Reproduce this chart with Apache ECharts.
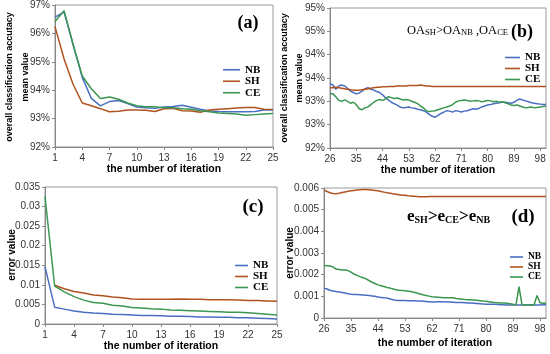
<!DOCTYPE html>
<html>
<head>
<meta charset="utf-8">
<script src="https://cdn.jsdelivr.net/npm/echarts@6/dist/echarts.min.js"></script>
<style>html,body{margin:0;padding:0;background:#fff}#c{width:550px;height:354px}</style>
</head>
<body>
<div id="c"></div>
<script>
// ---------- data ----------
const iterA = ['1','2','3','4','5','6','7','8','9','10','11','12','13','14','15','16','17','18','19','20','21','22','23','24','25'];
const iterB = ['26','27','28','29','30','31','32','33','34','35','36','37','38','39','40','41','42','43','44','45','46','47','48','49','50','51','52','53','54','55','56','57','58','59','60','61','62','63','64','65','66','67','68','69','70','71','72','73','74','75','76','77','78','79','80','81','82','83','84','85','86','87','88','89','90','91','92','93','94','95','96','97','98','99','100'];

// (a) accuracy, iterations 1-25
const accNB_a = [96.57,96.75,95.6,94.45,93.71,93.45,93.6,93.64,93.53,93.41,93.38,93.36,93.41,93.43,93.47,93.4,93.33,93.27,93.25,93.24,93.24,93.24,93.25,93.3,93.3];
const accSH_a = [96.24,95.1,94.2,93.55,93.45,93.35,93.24,93.26,93.3,93.3,93.29,93.25,93.35,93.36,93.28,93.27,93.22,93.3,93.33,93.35,93.37,93.39,93.39,93.33,93.32];
const accCE_a = [96.42,96.8,95.6,94.5,94.05,93.71,93.76,93.68,93.55,93.45,93.42,93.42,93.38,93.38,93.35,93.33,93.28,93.24,93.2,93.18,93.16,93.12,93.14,93.16,93.18];

// (b) accuracy, iterations 26-100
const accNB_b = [93.38,93.35,93.26,93.33,93.35,93.33,93.28,93.22,93.19,93.16,
 93.18,93.22,93.27,93.29,93.26,93.24,93.21,93.19,93.14,93.08,
 93.03,92.98,92.95,92.92,92.88,92.86,92.87,92.88,92.86,92.85,
 92.83,92.82,92.80,92.77,92.72,92.68,92.66,92.70,92.74,92.77,
 92.80,92.79,92.77,92.80,92.79,92.77,92.79,92.80,92.82,92.84,
 92.83,92.85,92.88,92.90,92.92,92.93,92.95,92.96,92.97,92.98,
 92.98,92.97,92.96,92.98,93.02,93.05,93.03,93.01,92.99,92.97,
 92.96,92.95,92.94,92.93,92.93];
const accSH_b = [93.29,93.29,93.30,93.29,93.28,93.27,93.26,93.25,93.24,93.24,
 93.24,93.25,93.26,93.27,93.28,93.29,93.30,93.30,93.31,93.31,
 93.32,93.32,93.32,93.33,93.33,93.33,93.33,93.34,93.34,93.34,
 93.34,93.35,93.34,93.33,93.33,93.32,93.32,93.32,93.32,93.32,
 93.32,93.32,93.32,93.32,93.32,93.32,93.32,93.32,93.32,93.32,
 93.32,93.32,93.32,93.32,93.32,93.32,93.32,93.32,93.32,93.32,
 93.32,93.32,93.32,93.32,93.32,93.32,93.32,93.32,93.32,93.32,
 93.32,93.32,93.32,93.32,93.32];
const accCE_b = [93.16,93.16,93.10,93.02,93.00,93.03,93.00,92.96,92.98,92.93,
 92.84,92.82,92.86,92.88,92.93,92.98,93.02,93.04,93.02,93.05,
 93.10,93.08,93.06,93.07,93.05,93.03,93.04,93.03,93.00,92.98,
 92.95,92.90,92.86,92.80,92.78,92.79,92.80,92.82,92.84,92.86,
 92.88,92.90,92.93,92.98,93.01,93.02,93.03,93.02,93.00,93.01,
 93.02,93.01,92.99,93.00,93.02,93.01,92.99,93.00,92.98,92.99,
 92.97,92.95,92.92,92.91,92.92,92.90,92.88,92.86,92.87,92.88,
 92.86,92.87,92.88,92.89,92.90];

// (c) error, iterations 1-25
const errNB_c = [0.0146,0.0043,0.0038,0.0033,0.0030,0.0028,0.0027,0.0025,0.0024,0.0023,0.0022,0.0022,0.0021,0.0020,0.0020,0.0019,0.0018,0.0018,0.0017,0.0017,0.0016,0.0016,0.0015,0.0014,0.0013];
const errSH_c = [null,0.0099,0.0090,0.0083,0.0079,0.0074,0.0072,0.0069,0.0067,0.0064,0.0063,0.0063,0.0063,0.0063,0.0064,0.0063,0.0063,0.0062,0.0062,0.0062,0.0061,0.0060,0.0060,0.0059,0.0058];
const errCE_c = [0.0325,0.0097,0.0082,0.0070,0.0061,0.0055,0.0053,0.0048,0.0046,0.0042,0.0041,0.0039,0.0038,0.0036,0.0035,0.0034,0.0033,0.0032,0.0031,0.0030,0.0030,0.0029,0.0027,0.0025,0.0023];

// (d) error, iterations 26-100
const errNB_d = [0.00138,0.00134,0.00128,0.00125,0.00122,0.00120,0.00118,0.00115,0.00112,0.00110,
 0.00109,0.00108,0.00107,0.00106,0.00105,0.00104,0.00102,0.00100,0.00097,0.00095,
 0.00093,0.00092,0.00088,0.00084,0.00082,0.00081,0.00081,0.00081,0.00080,0.00080,
 0.00080,0.00079,0.00078,0.00077,0.00076,0.00075,0.00074,0.00074,0.00075,0.00075,
 0.00075,0.00074,0.00074,0.00073,0.00072,0.00072,0.00071,0.00070,0.00069,0.00069,
 0.00068,0.00067,0.00066,0.00065,0.00064,0.00064,0.00063,0.00063,0.00062,0.00061,
 0.00061,0.00060,0.00060,0.00060,0.00060,0.00060,0.00060,0.00060,0.00060,0.00061,
 0.00060,0.00060,0.00060,0.00061,0.00061];
const errSH_d = [0.00590,0.00584,0.00578,0.00575,0.00574,0.00576,0.00579,0.00582,0.00585,0.00587,
 0.00589,0.00591,0.00592,0.00593,0.00593,0.00592,0.00591,0.00589,0.00587,0.00584,
 0.00581,0.00578,0.00576,0.00573,0.00571,0.00569,0.00567,0.00566,0.00564,0.00563,
 0.00562,0.00561,0.00560,0.00560,0.00560,0.00561,0.00561,0.00561,0.00561,0.00561,
 0.00561,0.00561,0.00561,0.00561,0.00561,0.00561,0.00561,0.00561,0.00561,0.00561,
 0.00561,0.00561,0.00561,0.00561,0.00561,0.00561,0.00561,0.00561,0.00561,0.00561,
 0.00561,0.00561,0.00561,0.00561,0.00561,0.00561,0.00561,0.00561,0.00561,0.00561,
 0.00561,0.00561,0.00561,0.00561,0.00561];
const errCE_d = [0.00242,0.00241,0.00240,0.00236,0.00226,0.00224,0.00222,0.00221,0.00219,0.00212,
 0.00203,0.00197,0.00191,0.00186,0.00181,0.00173,0.00165,0.00159,0.00153,0.00149,
 0.00145,0.00141,0.00138,0.00134,0.00130,0.00128,0.00127,0.00126,0.00124,0.00122,
 0.00119,0.00115,0.00111,0.00107,0.00104,0.00101,0.00098,0.00097,0.00096,0.00095,
 0.00094,0.00093,0.00094,0.00093,0.00090,0.00089,0.00087,0.00085,0.00084,0.00084,
 0.00083,0.00082,0.00080,0.00078,0.00077,0.00075,0.00073,0.00071,0.00070,0.00069,
 0.00069,0.00068,0.00066,0.00063,0.00061,0.00145,0.00061,0.00060,0.00060,0.00060,
 0.00060,0.00104,0.00070,0.00068,0.00068];

const seriesNames = ['NB','SH','CE'];
const colors = {NB:'#4A6EC2', SH:'#B0521E', CE:'#3A9651'};

// ---------- chart ----------
const chart = echarts.init(document.getElementById('c'), null, {renderer:'canvas'});
const sans = 'Liberation Sans, Arial, sans-serif';
const serif = 'Liberation Serif, Times New Roman, serif';

function xAx(gi, cats, intv, gap){
  return {type:'category', gridIndex:gi, data:cats, boundaryGap:false,
    axisLine:{lineStyle:{color:'#888'}},
    axisTick:{show:true, interval:intv, length:3, lineStyle:{color:'#888'}},
    axisLabel:{interval:intv, fontSize:10, color:'#333', fontFamily:sans, margin:6},
    splitLine:{show:false},
    name:'the number of iteration', nameLocation:'middle', nameGap:gap,
    nameTextStyle:{fontFamily:sans, fontWeight:'bold', fontSize:10.5, color:'#000'}};
}
function yAx(gi, min, max, intv, fmt){
  return {type:'value', gridIndex:gi, min:min, max:max, interval:intv,
    axisLine:{show:true, lineStyle:{color:'#888'}},
    axisTick:{show:true, length:3, lineStyle:{color:'#888'}},
    axisLabel:{fontSize:10, color:'#333', fontFamily:sans, margin:5, formatter:fmt},
    splitLine:{show:false}};
}
function ser(name, gi, data){
  return {type:'line', name:name, xAxisIndex:gi, yAxisIndex:gi, data:data,
    symbol:'none', lineStyle:{width:1.5, color:colors[name]}, itemStyle:{color:colors[name]},
    connectNulls:false, z:2};
}
function leg(left, top, iw, fs, lh){
  return {left:left, top:top, orient:'vertical', icon:'rect', itemWidth:iw, itemHeight:1.6, itemGap:0,
    padding:0, selectedMode:false, data:seriesNames,
    textStyle:{fontFamily:serif, fontWeight:'bold', fontSize:fs, lineHeight:lh, color:'#000'}};
}
const pctFmt = v => Math.round(v) + '%';
const errFmt = v => v === 0 ? '0' : String(+v.toFixed(3));

const option = {
  animation:false,
  backgroundColor:'#fff',
  grid:[
    {left:55, top:5, width:218, height:142, show:true, borderColor:'#999', borderWidth:1},
    {left:330, top:8, width:216, height:140, show:true, borderColor:'#999', borderWidth:1},
    {left:45, top:187, width:232, height:137, show:true, borderColor:'#999', borderWidth:1},
    {left:324, top:188, width:222, height:130, show:true, borderColor:'#999', borderWidth:1}
  ],
  xAxis:[ xAx(0, iterA, 2, 17), xAx(1, iterB, 8, 16), xAx(2, iterA, 2, 17), xAx(3, iterB, 8, 20) ],
  yAxis:[
    yAx(0, 92, 97, 1, pctFmt),
    yAx(1, 92, 95, 0.5, pctFmt),
    yAx(2, 0, 0.035, 0.005, errFmt),
    yAx(3, 0, 0.006, 0.001, errFmt)
  ],
  legend:[
    leg(223, 64, 17, 11, 11.5),
    leg(505, 52, 15, 11, 10.8),
    leg(235, 260, 13, 11, 10.5),
    leg(510, 252, 13, 9.5, 8.2)
  ],
  series:[
    ser('NB',0,accNB_a), ser('SH',0,accSH_a), ser('CE',0,accCE_a),
    ser('NB',1,accNB_b), ser('SH',1,accSH_b), ser('CE',1,accCE_b),
    ser('NB',2,errNB_c), ser('SH',2,errSH_c), ser('CE',2,errCE_c),
    ser('NB',3,errNB_d), ser('SH',3,errSH_d), ser('CE',3,errCE_d)
  ],
  graphic:[
    {type:'text', x:18, y:77, rotation:Math.PI/2, style:{text:'overall classification accutacy\nmean value', fontFamily:sans, fontWeight:'bold', fontSize:9, lineHeight:16, fill:'#000', align:'center', verticalAlign:'middle'}},
    {type:'text', x:292.5, y:78, rotation:Math.PI/2, style:{text:'overall classification accutacy\nmean value', fontFamily:sans, fontWeight:'bold', fontSize:9, lineHeight:15, fill:'#000', align:'center', verticalAlign:'middle'}},
    {type:'text', x:12, y:255, rotation:Math.PI/2, style:{text:'error value', fontFamily:sans, fontWeight:'bold', fontSize:10, fill:'#000', align:'center', verticalAlign:'middle'}},
    {type:'text', x:290, y:253, rotation:Math.PI/2, style:{text:'error value', fontFamily:sans, fontWeight:'bold', fontSize:10, fill:'#000', align:'center', verticalAlign:'middle'}},
    {type:'text', x:248, y:23, style:{text:'(a)', fontFamily:serif, fontWeight:'bold', fontSize:18, fill:'#000', align:'center', verticalAlign:'middle'}},
    {type:'text', x:522, y:32, style:{text:'(b)', fontFamily:serif, fontWeight:'bold', fontSize:18, fill:'#000', align:'center', verticalAlign:'middle'}},
    {type:'text', x:253, y:207, style:{text:'(c)', fontFamily:serif, fontWeight:'bold', fontSize:19, fill:'#000', align:'center', verticalAlign:'middle'}},
    {type:'text', x:523, y:217, style:{text:'(d)', fontFamily:serif, fontWeight:'bold', fontSize:19, fill:'#000', align:'center', verticalAlign:'middle'}},
    {type:'text', x:407, y:31, style:{text:'{m|OA}{s|SH}{m|>OA}{s|NB}{m| ,OA}{s|CE}', align:'left', verticalAlign:'middle',
      rich:{m:{fontFamily:serif, fontSize:12.5, fill:'#000', verticalAlign:'bottom'}, s:{fontFamily:serif, fontSize:8.5, fill:'#000', verticalAlign:'bottom'}}}},
    {type:'text', x:407, y:217, style:{text:'{m|e}{s|SH}{m|>e}{s|CE}{m|>e}{s|NB}', align:'left', verticalAlign:'middle',
      rich:{m:{fontFamily:serif, fontWeight:'bold', fontSize:17, fill:'#000', verticalAlign:'bottom'}, s:{fontFamily:serif, fontWeight:'bold', fontSize:10, fill:'#000', verticalAlign:'bottom'}}}}
  ]
};
chart.setOption(option);
</script>
</body>
</html>
